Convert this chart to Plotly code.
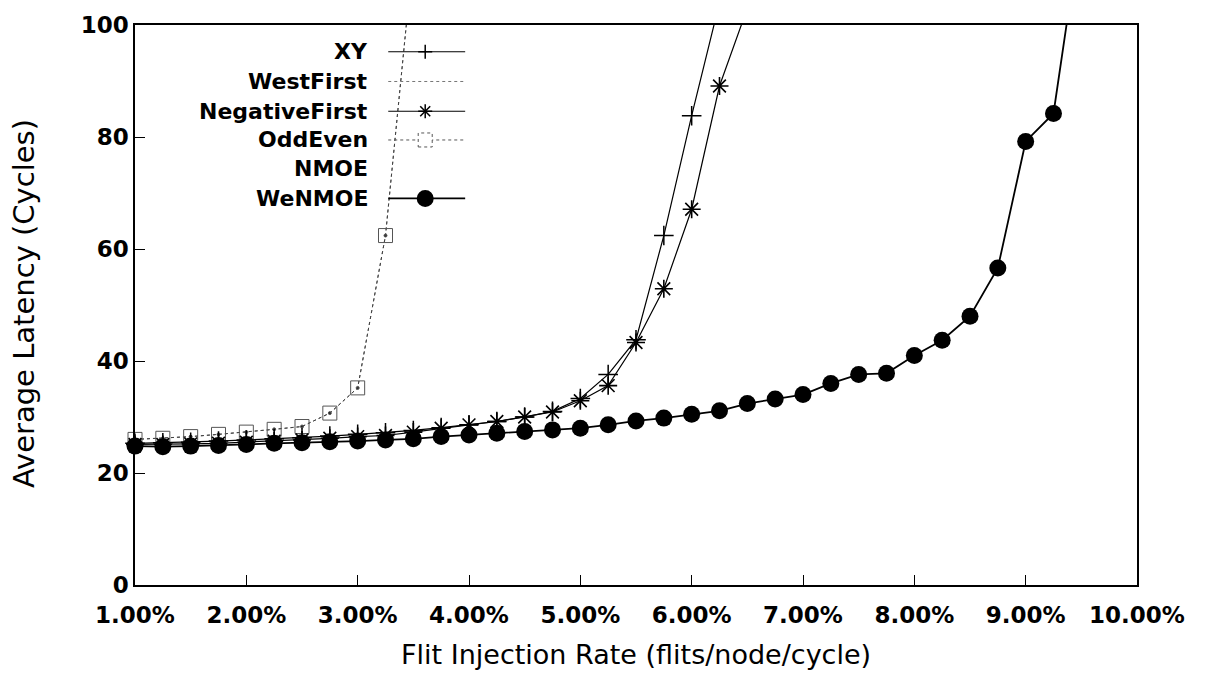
import plotly.graph_objects as go

# ---------------- data ----------------
rate = [1.00, 1.25, 1.50, 1.75, 2.00, 2.25, 2.50, 2.75, 3.00, 3.25, 3.50, 3.75,
        4.00, 4.25, 4.50, 4.75, 5.00, 5.25, 5.50, 5.75, 6.00, 6.25, 6.50, 6.75,
        7.00, 7.25, 7.50, 7.75, 8.00, 8.25, 8.50, 8.75, 9.00, 9.25, 9.50]

xy = [25.3, 25.4, 25.5, 25.7, 25.9, 26.1, 26.3, 26.6, 26.9, 27.2, 27.6, 28.1,
      28.6, 29.2, 30.0, 31.0, 33.3, 37.6, 43.8, 62.4, 83.8, 104.0]

west_first = [26.0, 26.2, 26.5, 26.9, 27.3, 27.8, 28.3, 30.7, 35.2, 62.4, 112.7]

negative_first = [25.1, 25.1, 25.2, 25.3, 25.5, 25.7, 25.9, 26.2, 26.5, 26.7, 27.3, 28.0,
                  28.6, 29.2, 30.0, 30.9, 32.9, 35.6, 43.3, 52.9, 67.1, 89.1, 103.0]

odd_even = [26.0, 26.2, 26.5, 26.9, 27.3, 27.8, 28.3, 30.7, 35.2, 62.4, 112.7]

nmoe = [24.8, 24.7, 24.8, 24.9, 25.1, 25.3, 25.4, 25.6, 25.7, 25.9, 26.1, 26.5,
        26.8, 27.1, 27.4, 27.7, 28.0, 28.6, 29.3, 29.8, 30.5, 31.1, 32.4, 33.2,
        34.0, 36.0, 37.6, 37.8, 41.0, 43.7, 48.0, 56.6, 79.2, 84.2, 118.0]

wenmoe = [24.8, 24.7, 24.8, 24.9, 25.1, 25.3, 25.4, 25.6, 25.7, 25.9, 26.1, 26.5,
          26.8, 27.1, 27.4, 27.7, 28.0, 28.6, 29.3, 29.8, 30.5, 31.1, 32.4, 33.2,
          34.0, 36.0, 37.6, 37.8, 41.0, 43.7, 48.0, 56.6, 79.2, 84.2, 118.0]

series_names = ["XY", "WestFirst", "NegativeFirst", "OddEven", "NMOE", "WeNMOE"]
x_tick_vals = [1, 2, 3, 4, 5, 6, 7, 8, 9, 10]
x_tick_text = ["1.00%", "2.00%", "3.00%", "4.00%", "5.00%",
               "6.00%", "7.00%", "8.00%", "9.00%", "10.00%"]
y_tick_vals = [0, 20, 40, 60, 80, 100]

Y_MAX = 100


def sizes(vals, s):
    return [s if v <= Y_MAX else 0 for v in vals]


fig = go.Figure()

# NMOE (not visible in the original)
fig.add_trace(go.Scatter(x=rate[:len(nmoe)], y=nmoe, mode="lines", name="NMOE",
                         line=dict(color="rgba(255,255,255,0)", width=1),
                         showlegend=False))
# WestFirst
fig.add_trace(go.Scatter(x=rate[:len(west_first)], y=west_first, mode="lines+markers",
                         name="WestFirst", cliponaxis=False,
                         line=dict(color="#555555", width=1, dash="dot"),
                         marker=dict(symbol="circle", size=sizes(west_first, 3),
                                     color="#222222", opacity=1),
                         showlegend=False))
# OddEven
fig.add_trace(go.Scatter(x=rate[:len(odd_even)], y=odd_even, mode="lines+markers",
                         name="OddEven", cliponaxis=False,
                         line=dict(color="#444444", width=1, dash="dot"),
                         marker=dict(symbol="square-open", size=sizes(odd_even, 14),
                                     color="#555555", opacity=1, line=dict(width=1)),
                         showlegend=False))
# XY
fig.add_trace(go.Scatter(x=rate[:len(xy)], y=xy, mode="lines+markers",
                         name="XY", cliponaxis=False,
                         line=dict(color="black", width=1.2),
                         marker=dict(symbol="cross-thin-open", size=sizes(xy, 14), opacity=1,
                                     color="black", line=dict(width=1.5, color="black")),
                         showlegend=False))
# NegativeFirst
fig.add_trace(go.Scatter(x=rate[:len(negative_first)], y=negative_first, mode="lines+markers",
                         name="NegativeFirst", cliponaxis=False,
                         line=dict(color="black", width=1.2),
                         marker=dict(symbol="asterisk-open", size=sizes(negative_first, 15),
                                     opacity=1, color="black",
                                     line=dict(width=1.6, color="black")),
                         showlegend=False))
# WeNMOE
fig.add_trace(go.Scatter(x=rate[:len(wenmoe)], y=wenmoe, mode="lines+markers",
                         name="WeNMOE", cliponaxis=False,
                         line=dict(color="black", width=1.8),
                         marker=dict(symbol="circle", size=sizes(wenmoe, 17), color="black",
                                     opacity=1, line=dict(width=0)),
                         showlegend=False))

# ---------------- custom gnuplot-style key ----------------
FONT = "DejaVu Sans"
shapes = []
annotations = []
L, R, T, B = 134.5, 1137.5, 20.0, 585.0
W, H = R - L, B - T


def px(xp):
    return (xp - L) / W


def py(yp):
    return (B - yp) / H


key_rows = [47, 77, 107, 136, 165, 195]
text_right = px(370)
line_x0, line_x1, mark_x = px(388), px(465), px(425)
for name, row in zip(series_names, key_rows):
    yy = py(row)
    annotations.append(dict(x=text_right, y=yy, xref="paper", yref="paper",
                            text=name, showarrow=False, xanchor="right", yanchor="middle",
                            font=dict(family=FONT, size=22, color="black", weight="bold")))
    if name == "XY":
        shapes.append(dict(type="line", xref="paper", yref="paper", x0=line_x0, x1=line_x1,
                           y0=yy, y1=yy, line=dict(color="black", width=1.2)))
        shapes.append(dict(type="line", xref="paper", yref="paper", xsizemode="pixel",
                           ysizemode="pixel", xanchor=mark_x, yanchor=yy,
                           x0=-7, x1=7, y0=0, y1=0, line=dict(color="black", width=1.5)))
        shapes.append(dict(type="line", xref="paper", yref="paper", xsizemode="pixel",
                           ysizemode="pixel", xanchor=mark_x, yanchor=yy,
                           x0=0, x1=0, y0=-7, y1=7, line=dict(color="black", width=1.5)))
    elif name == "WestFirst":
        shapes.append(dict(type="line", xref="paper", yref="paper", x0=line_x0, x1=line_x1,
                           y0=yy, y1=yy, line=dict(color="#777777", width=1, dash="dot")))
    elif name == "NegativeFirst":
        shapes.append(dict(type="line", xref="paper", yref="paper", x0=line_x0, x1=line_x1,
                           y0=yy, y1=yy, line=dict(color="black", width=1.2)))
        for dx, dy in [(-7, 0), (0, -7), (-5, -5), (-5, 5)]:
            shapes.append(dict(type="line", xref="paper", yref="paper", xsizemode="pixel",
                               ysizemode="pixel", xanchor=mark_x, yanchor=yy,
                               x0=dx, x1=-dx, y0=dy, y1=-dy,
                               line=dict(color="black", width=1.5)))
    elif name == "OddEven":
        shapes.append(dict(type="line", xref="paper", yref="paper", x0=line_x0, x1=line_x1,
                           y0=yy, y1=yy, line=dict(color="#555555", width=1, dash="dot")))
        shapes.append(dict(type="rect", xref="paper", yref="paper", xsizemode="pixel",
                           ysizemode="pixel", xanchor=mark_x, yanchor=yy,
                           x0=-7, x1=7, y0=-7, y1=7, fillcolor="white",
                           line=dict(color="#555555", width=1, dash="dot")))
    elif name == "WeNMOE":
        shapes.append(dict(type="line", xref="paper", yref="paper", x0=line_x0, x1=line_x1,
                           y0=yy, y1=yy, line=dict(color="black", width=1.8)))
        shapes.append(dict(type="circle", xref="paper", yref="paper", xsizemode="pixel",
                           ysizemode="pixel", xanchor=mark_x, yanchor=yy,
                           x0=-8.5, x1=8.5, y0=-8.5, y1=8.5, fillcolor="black",
                           line=dict(color="black", width=0)))

# axis titles
annotations.append(dict(x=px(636), y=py(655), xref="paper", yref="paper",
                        text="Flit Injection Rate (flits/node/cycle)", showarrow=False,
                        xanchor="center", yanchor="middle",
                        font=dict(family=FONT, size=27, color="black")))
annotations.append(dict(x=px(23), y=py(301), xref="paper", yref="paper",
                        text="Average Latency (Cycles)", showarrow=False, textangle=-90,
                        xanchor="center", yanchor="middle",
                        font=dict(family=FONT, size=29, color="black")))

fig.update_layout(
    width=1205, height=679,
    margin=dict(l=L, r=1205 - R, t=T, b=679 - B, pad=0),
    paper_bgcolor="white", plot_bgcolor="white",
    showlegend=False,
    shapes=shapes, annotations=annotations,
    font=dict(family=FONT, color="black"),
)
fig.update_xaxes(range=[1, 10], tickvals=x_tick_vals, ticktext=x_tick_text,
                 ticks="inside", ticklen=10, tickwidth=1.2, tickcolor="black",
                 showline=True, linecolor="black", linewidth=1.5, mirror=True,
                 showgrid=False, zeroline=False, ticklabelstandoff=9,
                 tickfont=dict(family=FONT, size=23, color="black", weight="bold"))
fig.update_yaxes(range=[0, 100], tickvals=y_tick_vals,
                 ticks="inside", ticklen=10, tickwidth=1.2, tickcolor="black",
                 showline=True, linecolor="black", linewidth=1.5, mirror=True,
                 showgrid=False, zeroline=False,
                 tickfont=dict(family=FONT, size=23, color="black", weight="bold"))

fig.write_html("out.html")
